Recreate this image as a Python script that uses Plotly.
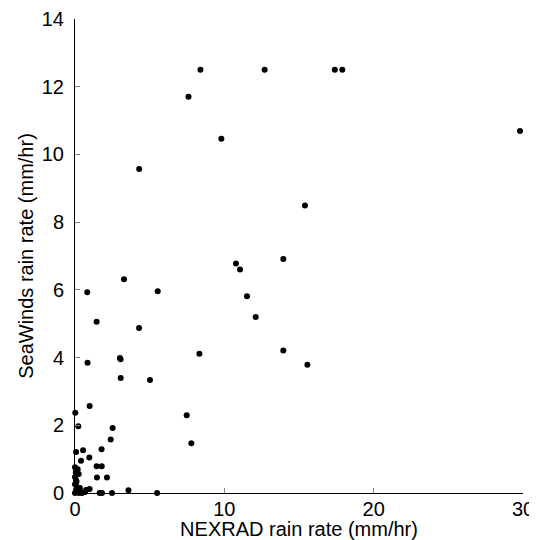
import plotly.graph_objects as go

# NEXRAD vs SeaWinds rain rate (mm/hr)
nexrad = [
    8.4, 12.7, 17.4, 17.9, 7.6, 9.8, 29.8, 15.4, 4.3,
    10.78, 11.05, 13.95, 5.54, 11.52, 12.1, 8.33, 13.95, 15.56,
    5.02, 7.48, 7.79, 3.28, 0.82, 1.45, 4.29, 0.84, 3.01, 3.05,
    3.06, 0.98, 0.02, 0.22, 2.52, 2.39, 0.07, 0.54, 1.78, 0.40,
    0.96, 1.45, 1.79, 1.47, 2.14, 0.98, 3.58, 5.50, 2.48, 1.65,
    1.81, 0.00, 0.18, 0.25, 0.00, 0.07, 0.00, 0.13, 0.33, 0.20,
    0.47, 0.00, 0.07, 0.27, 0.67, 0.74, 0.05, 0.10,
]
seawinds = [
    12.5, 12.5, 12.5, 12.5, 11.7, 10.46, 10.69, 8.49, 9.57,
    6.78, 6.60, 6.91, 5.96, 5.81, 5.20, 4.11, 4.21, 3.79,
    3.34, 2.30, 1.47, 6.31, 5.93, 5.06, 4.87, 3.85, 3.99, 3.95,
    3.40, 2.57, 2.37, 1.97, 1.92, 1.58, 1.21, 1.26, 1.29, 0.95,
    1.05, 0.79, 0.79, 0.46, 0.46, 0.12, 0.08, 0.00, 0.00, 0.00,
    0.00, 0.76, 0.70, 0.56, 0.47, 0.38, 0.26, 0.18, 0.15, 0.06,
    0.00, 0.00, 0.09, 0.00, 0.03, 0.09, 0.62, 0.33,
]

x_ticks = [0, 10, 20, 30]
y_ticks = [0, 2, 4, 6, 8, 10, 12, 14]

fig = go.Figure()
fig.add_trace(go.Scatter(
    x=nexrad, y=seawinds,
    mode='markers',
    marker=dict(symbol='circle', size=6, color='black'),
    cliponaxis=False,
    showlegend=False,
))

axis_common = dict(
    showline=True, linecolor='black', linewidth=1,
    showgrid=False, zeroline=False,
    ticks='inside', ticklen=5, tickcolor='#808080', tickwidth=1,
    tickfont=dict(family='Liberation Sans, Arial, sans-serif', size=20, color='black'),
    ticklabeloverflow='allow',
)

# the page body adds an 8px offset, so the figure is a bit smaller than the window
fig.update_layout(
    width=529, height=532,
    paper_bgcolor='white', plot_bgcolor='white',
    margin=dict(l=67, r=14, t=11, b=47),
    font=dict(family='Liberation Sans, Arial, sans-serif', color='black'),
    xaxis=dict(
        range=[0, 30], tickvals=x_ticks, ticktext=[str(v) for v in x_ticks],
        title=dict(text='NEXRAD rain rate (mm/hr)', font=dict(size=20), standoff=6),
        automargin=False,
        ticklabelstandoff=-2,
        **axis_common,
    ),
    yaxis=dict(
        range=[0, 14], tickvals=y_ticks, ticktext=[str(v) for v in y_ticks],
        title=dict(text='SeaWinds rain rate (mm/hr)', font=dict(size=20), standoff=2),
        automargin=False,
        ticklabelstandoff=6,
        **axis_common,
    ),
)

fig.write_html("out.html")
